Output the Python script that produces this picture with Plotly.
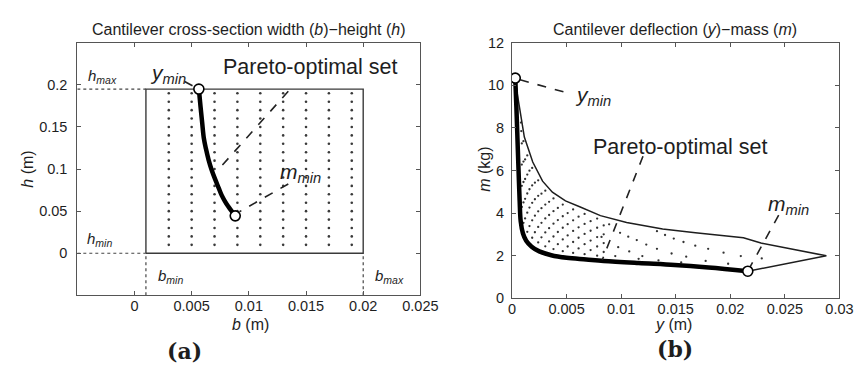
import plotly.graph_objects as go
import numpy as np

# ---------------- data: panel (a) ----------------
b_limits = [0.001, 0.02]          # b_min, b_max
h_limits = [0.0, 0.195]           # h_min, h_max
grid_b = [0.003, 0.005, 0.007, 0.009, 0.011, 0.013, 0.015, 0.017, 0.019]
grid_h = [0.01, 0.02, 0.03, 0.04, 0.05, 0.06, 0.07, 0.08, 0.09, 0.10,
          0.11, 0.12, 0.13, 0.14, 0.15, 0.16, 0.17, 0.18, 0.19]
pareto_b = [0.00563, 0.00577, 0.00592, 0.00606, 0.00625, 0.00648, 0.00675,
            0.00705, 0.00735, 0.00762, 0.0079, 0.00819, 0.0085, 0.00881]
pareto_h = [0.195, 0.175, 0.155, 0.137, 0.124, 0.111, 0.099,
            0.088, 0.078, 0.069, 0.062, 0.0558, 0.050, 0.0444]
a_xticks = [0, 0.005, 0.01, 0.015, 0.02, 0.025]
a_xticklabels = ['0', '0.005', '0.01', '0.015', '0.02', '0.025']
a_yticks = [0, 0.05, 0.1, 0.15, 0.2]
a_yticklabels = ['0', '0.05', '0.1', '0.15', '0.2']
a_xrange = [-0.005, 0.025]
a_yrange = [-0.05, 0.25]

# ---------------- data: panel (b) ----------------
front_y = [0.0003, 0.0004, 0.0005, 0.0006, 0.0007, 0.0008, 0.001, 0.0013, 0.0018,
           0.0025, 0.0036, 0.005, 0.0068, 0.0084, 0.0116, 0.0149, 0.018, 0.0216]
front_m = [10.34, 9.0, 7.5, 6.0, 4.6, 3.6, 3.05, 2.7, 2.42,
           2.2, 2.02, 1.9, 1.82, 1.75, 1.65, 1.56, 1.44, 1.27]
upper_y = [0.0003, 0.00045, 0.00075, 0.00113, 0.0019, 0.0028, 0.0037, 0.0049, 0.0062,
           0.0081, 0.0105, 0.0138, 0.0168, 0.0212, 0.0228, 0.0288, 0.0216]
upper_m = [10.34, 9.7, 8.76, 7.57, 6.4, 5.5, 4.98, 4.57, 4.3,
           3.88, 3.56, 3.25, 3.07, 2.84, 2.59, 1.99, 1.27]

# feasible designs (dots), read row by row in the dense left part
arch_x_a = [0.0009, 0.0012, 0.0016, 0.0021, 0.0027, 0.0034, 0.0042, 0.0051, 0.0061, 0.0072, 0.0084]
arch_m_a1 = [7.27, 6.52, 5.99, 5.43, 4.91, 4.53, 4.24, 4.00, 3.83, 3.62, 3.42]
arch_m_a2 = [6.28, 5.60, 5.12, 4.65, 4.23, 3.91, 3.67, 3.48, 3.33, 3.17, 3.00]
arch_m_a3 = [5.28, 4.67, 4.26, 3.88, 3.54, 3.29, 3.11, 2.95, 2.84, 2.71, 2.59]
arch_m_a4 = [4.29, 3.75, 3.39, 3.10, 2.86, 2.67, 2.54, 2.43, 2.34, 2.26, 2.17]
arch_x_b = [0.00105, 0.0014, 0.00185, 0.0024, 0.00305, 0.0038, 0.00465, 0.0056, 0.00665, 0.0078]
arch_m_b1 = [7.38, 6.71, 6.12, 5.54, 5.05, 4.69, 4.40, 4.17, 3.96, 3.74]
arch_m_b2 = [6.42, 5.81, 5.30, 4.81, 4.40, 4.09, 3.85, 3.66, 3.49, 3.31]
arch_m_b3 = [5.46, 4.92, 4.48, 4.08, 3.75, 3.50, 3.31, 3.16, 3.02, 2.87]
arch_m_b4 = [4.50, 4.02, 3.66, 3.35, 3.09, 2.90, 2.76, 2.64, 2.54, 2.43]
arch_m_b5 = [3.54, 3.12, 2.84, 2.62, 2.44, 2.31, 2.21, 2.13, 2.07, 2.00]
top_dots_y = [0.00082, 0.00085]
top_dots_m = [8.25, 7.85]
# sparser right part
right_dots_y = [0.0089, 0.0082, 0.0099, 0.01065, 0.01143, 0.0123,
                0.01328, 0.01402, 0.01482, 0.01571, 0.01679, 0.01797, 0.01938, 0.02096, 0.02288,
                0.00973, 0.01074, 0.01194, 0.01328, 0.01462, 0.01596,
                0.00946, 0.01342, 0.01774, 0.0116, 0.0155, 0.0198]
right_dots_m = [3.47, 2.88, 3.07, 2.89, 2.73, 2.52,
                3.15, 2.97, 2.80, 2.64, 2.47, 2.32, 2.14, 1.98, 1.87,
                2.40, 2.20, 1.98, 2.32, 2.10, 1.95,
                1.98, 1.78, 1.75, 1.85, 1.68, 1.62]

b_xticks = [0, 0.005, 0.01, 0.015, 0.02, 0.025, 0.03]
b_xticklabels = ['0', '0.005', '0.01', '0.015', '0.02', '0.025', '0.03']
b_yticks = [0, 2, 4, 6, 8, 10, 12]
b_yticklabels = ['0', '2', '4', '6', '8', '10', '12']
b_xrange = [0, 0.03]
b_yrange = [0, 12]

# ---------------- styling ----------------
W, H = 868, 369
FONT = "Liberation Sans"
TXT = "#1e1e1e"
AX = "#555555"

def px_x(p):
    return p / W

def px_y(p):
    return 1 - p / H

fig = go.Figure()

# ---- panel (a) ----
gb, gh = np.meshgrid(grid_b, grid_h)
fig.add_trace(go.Scatter(x=gb.ravel(), y=gh.ravel(), mode="markers",
                         marker=dict(size=2.6, color="#3a3a3a"),
                         xaxis="x", yaxis="y", hoverinfo="skip"))
fig.add_trace(go.Scatter(
    x=[b_limits[0], b_limits[1], b_limits[1], b_limits[0], b_limits[0]],
    y=[h_limits[0], h_limits[0], h_limits[1], h_limits[1], h_limits[0]],
    mode="lines", line=dict(color="#3a3a3a", width=1.4),
    xaxis="x", yaxis="y", hoverinfo="skip"))
for xs, ys in [([a_xrange[0], b_limits[0]], [h_limits[1], h_limits[1]]),
               ([a_xrange[0], b_limits[0]], [h_limits[0], h_limits[0]]),
               ([b_limits[0], b_limits[0]], [a_yrange[0], h_limits[0]]),
               ([b_limits[1], b_limits[1]], [a_yrange[0], h_limits[0]])]:
    fig.add_trace(go.Scatter(x=xs, y=ys, mode="lines",
                             line=dict(color="#444444", width=1.2, dash="dot"),
                             xaxis="x", yaxis="y", hoverinfo="skip"))
fig.add_trace(go.Scatter(x=pareto_b, y=pareto_h, mode="lines",
                         line=dict(color="black", width=4.5, shape="spline"),
                         xaxis="x", yaxis="y", hoverinfo="skip"))
for xs, ys in [([0.00438, pareto_b[0]], [0.204, pareto_h[0]]),
               ([0.01345, 0.00734], [0.1925, 0.0994]),
               ([0.01345, 0.00918], [0.0823, 0.0493])]:
    fig.add_trace(go.Scatter(x=xs, y=ys, mode="lines",
                             line=dict(color="#222222", width=1.6, dash="dash"),
                             xaxis="x", yaxis="y", hoverinfo="skip"))
fig.add_trace(go.Scatter(x=[pareto_b[0], pareto_b[-1]], y=[pareto_h[0], pareto_h[-1]],
                         mode="markers",
                         marker=dict(size=10, color="white",
                                     line=dict(color="black", width=1.6)),
                         xaxis="x", yaxis="y", hoverinfo="skip"))

# ---- panel (b) ----
dot_x = (arch_x_a * 4) + (arch_x_b * 5) + top_dots_y + right_dots_y
dot_m = (arch_m_a1 + arch_m_a2 + arch_m_a3 + arch_m_a4 +
         arch_m_b1 + arch_m_b2 + arch_m_b3 + arch_m_b4 + arch_m_b5 +
         top_dots_m + right_dots_m)
fig.add_trace(go.Scatter(x=dot_x, y=dot_m, mode="markers",
                         marker=dict(size=2.3, color="#333333"),
                         xaxis="x2", yaxis="y2", hoverinfo="skip"))
fig.add_trace(go.Scatter(x=upper_y, y=upper_m, mode="lines",
                         line=dict(color="#1e1e1e", width=1.5),
                         xaxis="x2", yaxis="y2", hoverinfo="skip"))
fig.add_trace(go.Scatter(x=front_y, y=front_m, mode="lines",
                         line=dict(color="black", width=4.5, shape="spline"),
                         xaxis="x2", yaxis="y2", hoverinfo="skip"))
for xs, ys in [([0.00074, 0.00545], [10.26, 9.59]),
               ([0.0120, 0.00827], [6.67, 1.80]),
               ([0.02443, 0.02176], [3.9, 1.42])]:
    fig.add_trace(go.Scatter(x=xs, y=ys, mode="lines",
                             line=dict(color="#222222", width=1.6, dash="dash"),
                             xaxis="x2", yaxis="y2", hoverinfo="skip"))
fig.add_trace(go.Scatter(x=[front_y[0], front_y[-1]], y=[front_m[0], front_m[-1]],
                         mode="markers",
                         marker=dict(size=10, color="white",
                                     line=dict(color="black", width=1.6)),
                         xaxis="x2", yaxis="y2", hoverinfo="skip"))

axis_common = dict(showline=True, mirror="ticks", ticks="inside", ticklen=4,
                   tickcolor=AX, linecolor=AX, linewidth=1, showgrid=False,
                   zeroline=False, tickfont=dict(family=FONT, size=14.5, color=TXT),
                   fixedrange=True)

fig.update_layout(
    width=W, height=H, margin=dict(l=0, r=0, t=0, b=0),
    paper_bgcolor="white", plot_bgcolor="white", showlegend=False,
    font=dict(family=FONT, color=TXT),
    xaxis=dict(domain=[px_x(67), px_x(419)], range=a_xrange, tickvals=a_xticks,
               ticktext=a_xticklabels, anchor="y", ticklabelstandoff=-3, **axis_common),
    yaxis=dict(domain=[px_y(292), px_y(28)], range=a_yrange, tickvals=a_yticks,
               ticktext=a_yticklabels, anchor="x", ticklabelstandoff=6, **axis_common),
    xaxis2=dict(domain=[px_x(513), px_x(849)], range=b_xrange, tickvals=b_xticks,
                ticktext=b_xticklabels, anchor="y2", ticklabelstandoff=-3, **axis_common),
    yaxis2=dict(domain=[px_y(295), px_y(28)], range=b_yrange, tickvals=b_yticks,
                ticktext=b_yticklabels, anchor="x2", ticklabelstandoff=4, **axis_common),
)

ann = []
def paper_text(text, x, y, size, angle=0, family=FONT, xanchor="center"):
    ann.append(dict(text=text, x=px_x(x), y=px_y(y), xref="paper", yref="paper",
                    showarrow=False, textangle=angle, xanchor=xanchor, yanchor="middle",
                    font=dict(family=family, size=size, color=TXT)))

def data_text(text, x, y, size, xr, yr, xanchor="left"):
    ann.append(dict(text=text, x=x, y=y, xref=xr, yref=yr, showarrow=False,
                    xanchor=xanchor, yanchor="middle",
                    font=dict(family=FONT, size=size, color=TXT)))

paper_text("Cantilever cross-section width (<i>b</i>)\u2212height (<i>h</i>)", 243, 14, 16)
paper_text("Cantilever deflection (<i>y</i>)\u2212mass (<i>m</i>)", 680, 14, 16)
paper_text("<i>b</i> (m)", 245, 323, 16)
paper_text("<i>y</i> (m)", 679, 323, 16)
paper_text("<i>h</i> (m)", 15, 160, 16, angle=-90)
paper_text("<i>m</i> (kg)", 484, 160, 16, angle=-90)
paper_text("<b>(a)</b>", 177, 350, 22, family="DejaVu Serif")
paper_text("<b>(b)</b>", 680, 348, 22, family="DejaVu Serif")

data_text("Pareto-optimal set", 0.01537, 0.221, 21.5, "x", "y", xanchor="center")
data_text("<i>y<sub>min</sub></i>", 0.00122, 0.213, 21, "x", "y")
data_text("<i>m<sub>min</sub></i>", 0.01257, 0.0957, 21, "x", "y")
data_text("<i>h<sub>max</sub></i>", -0.0042, 0.2096, 15, "x", "y")
data_text("<i>h<sub>min</sub></i>", -0.0043, 0.0163, 15, "x", "y")
data_text("<i>b<sub>min</sub></i>", 0.0019, -0.0278, 15, "x", "y")
data_text("<i>b<sub>max</sub></i>", 0.02084, -0.0278, 15, "x", "y")

data_text("Pareto-optimal set", 0.0154, 7.1, 21.5, "x2", "y2", xanchor="center")
data_text("<i>y<sub>min</sub></i>", 0.0056, 9.5, 21, "x2", "y2")
data_text("<i>m<sub>min</sub></i>", 0.0233, 4.36, 21, "x2", "y2")

fig.update_layout(annotations=ann)
fig.write_html("out.html")
